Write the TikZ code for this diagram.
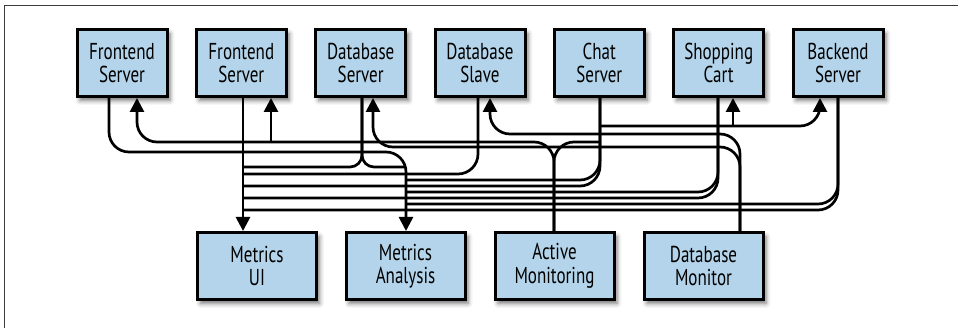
\documentclass[tikz,border=0pt]{standalone}
\usepackage{fontspec}
\newfontfamily\boxfont{PT Sans}[FakeStretch=0.74]
\usetikzlibrary{arrows.meta,shadows.blur}
\definecolor{boxblue}{RGB}{179,212,234}
\definecolor{framegray}{RGB}{60,60,60}
\begin{document}
\begin{tikzpicture}[x=1pt,y=-1pt,
  box/.style={draw=black, line width=3pt, fill=boxblue, minimum height=67pt,
    align=center, inner sep=0pt, font=\boxfont\fontsize{23}{23.5}\selectfont,
    blur shadow={shadow xshift=3pt, shadow yshift=-4pt, shadow blur radius=4.5pt, shadow opacity=55}},
  topbox/.style={box, minimum width=90pt},
  botbox/.style={box, minimum width=119pt},
  conn/.style={line width=2.7pt, rounded corners=20pt},
  arr/.style={-{Triangle[width=14pt,length=14pt]}}
]
\useasboundingbox (0,0) rectangle (958,328);
\draw[framegray, line width=1pt] (4,328) -- (4,6) -- (958,6);

% top boxes
\node[topbox] (t1) at (122,63) {Frontend\\Server};
\node[topbox] (t2) at (241.3,63) {Frontend\\Server};
\node[topbox] (t3) at (360.7,63) {Database\\Server};
\node[topbox] (t4) at (480,63) {Database\\Slave};
\node[topbox] (t5) at (599.3,63) {Chat\\Server};
\node[topbox] (t6) at (718.7,63) {Shopping\\Cart};
\node[topbox] (t7) at (838,63) {Backend\\Server};
% bottom boxes
\node[botbox] (b1) at (257,266) {Metrics\\UI};
\node[botbox] (b2) at (405.5,266) {Metrics\\Analysis};
\node[botbox] (b3) at (554.5,266) {Active\\Monitoring};
\node[botbox] (b4) at (703.5,266) {Database\\Monitor};

% ports
\coordinate (t1o) at ([xshift=-13pt]t1.south);
\coordinate (t1i) at ([xshift=15pt]t1.south);
\coordinate (t2o) at ([xshift=1.7pt]t2.south);
\coordinate (t2i) at ([xshift=29.7pt]t2.south);
\coordinate (t3o) at ([xshift=1.3pt]t3.south);
\coordinate (t3i) at ([xshift=12.3pt]t3.south);
\coordinate (t4o) at ([xshift=-2pt]t4.south);
\coordinate (t4i) at ([xshift=10pt]t4.south);
\coordinate (t5o) at ([xshift=0.7pt]t5.south);
\coordinate (t6o) at ([xshift=-0.7pt]t6.south);
\coordinate (t6i) at ([xshift=14.3pt]t6.south);
\coordinate (t7o) at (t7.south);
\coordinate (t7i) at ([xshift=-18pt]t7.south);
\coordinate (b1i) at ([xshift=-14pt]b1.north);
\coordinate (b2i) at ([xshift=0.5pt]b2.north);
\coordinate (b3o) at ([xshift=-0.5pt]b3.north);
\coordinate (b4o) at ([xshift=36.5pt]b4.north);

% metrics flows
\draw[conn,arr] (t1o) -- (t1o |- 0,152) -- (b2i |- 0,152) -- (b2i);
\draw[conn,arr] (t2o) -- (b1i);
\draw[conn,rounded corners=12pt] (t3o) -- (t3o |- 0,167) -- (b1i |- 0,167);
\draw[conn,rounded corners=12pt] (t3o) -- (t3o |- 0,167) -- (405,167);
\draw[conn] (t4o) -- (t4o |- 0,174) -- (b1i |- 0,174);
\draw[conn] (t5o) -- (t5o |- 0,180) -- (b2i |- 0,180);
\draw[conn] (t5o) -- (t5o |- 0,186) -- (b1i |- 0,186);
\draw[conn] (t6o) -- (t6o |- 0,192) -- (b2i |- 0,192);
\draw[conn] (t6o) -- (t6o |- 0,198) -- (b1i |- 0,198);
\draw[conn] (t7o) -- (t7o |- 0,204) -- (b2i |- 0,204);
\draw[conn] (t7o) -- (t7o |- 0,210) -- (b1i |- 0,210);

% active monitoring
\draw[conn,arr] (b3o) -- (b3o |- 0,142) -- (t1i |- 0,142) -- (t1i);
\draw[conn,arr] (t2i |- 0,142) -- (t2i);
\draw[conn] (b3o) -- (b3o |- 0,142) -- (t5o |- 0,142);
\draw[conn,arr] (t5o |- 0,126) -- (t7i |- 0,126) -- (t7i);
\draw[conn,arr] (t6i |- 0,126) -- (t6i);

% database monitor
\draw[conn,arr] (b4o) -- (b4o |- 0,147) -- (t3i |- 0,147) -- (t3i);
\draw[conn,arr] (b4o) -- (b4o |- 0,134) -- (t4i |- 0,134) -- (t4i);
\end{tikzpicture}
\end{document}
